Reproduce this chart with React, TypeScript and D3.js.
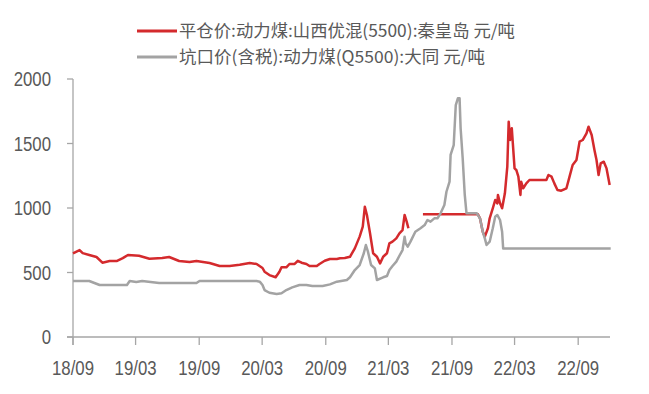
import React from "react";
import * as d3 from "d3";

// 平仓价:动力煤:山西优混(5500):秦皇岛 元/吨  (null = gap in the data)
const redSeries: [string, number | null][] = [
  ["2018-09-01", 649], ["2018-09-20", 674], ["2018-09-29", 650], ["2018-10-18", 636],
  ["2018-11-08", 620], ["2018-11-25", 576], ["2018-12-16", 589], ["2019-01-05", 589],
  ["2019-01-23", 612], ["2019-02-07", 636], ["2019-03-11", 630], ["2019-04-10", 607],
  ["2019-05-17", 612], ["2019-06-06", 620], ["2019-07-05", 589], ["2019-08-04", 581],
  ["2019-08-24", 589], ["2019-10-01", 574], ["2019-10-30", 550], ["2019-11-28", 550],
  ["2019-12-27", 560], ["2020-01-25", 574], ["2020-02-14", 566], ["2020-03-02", 535],
  ["2020-03-08", 506], ["2020-03-22", 480], ["2020-04-09", 463], ["2020-04-20", 506],
  ["2020-04-26", 540], ["2020-05-10", 540], ["2020-05-19", 566], ["2020-06-03", 566],
  ["2020-06-12", 591], ["2020-06-23", 576], ["2020-07-07", 566], ["2020-07-16", 550],
  ["2020-08-06", 550], ["2020-08-14", 566], ["2020-08-29", 591], ["2020-09-13", 605],
  ["2020-10-03", 605], ["2020-10-12", 610], ["2020-10-26", 612], ["2020-11-10", 622],
  ["2020-11-24", 687], ["2020-12-08", 778], ["2020-12-17", 855], ["2020-12-23", 1010],
  ["2020-12-29", 946], ["2021-01-07", 804], ["2021-01-16", 649], ["2021-01-27", 622],
  ["2021-02-05", 571], ["2021-02-14", 622], ["2021-02-25", 649], ["2021-03-04", 726],
  ["2021-03-13", 739], ["2021-03-24", 765], ["2021-04-02", 804], ["2021-04-11", 829],
  ["2021-04-17", 946], ["2021-04-23", 894], ["2021-04-28", 843], ["2021-05-20", null],
  ["2021-06-09", 951], ["2021-11-15", 951], ["2021-11-21", 920], ["2021-11-29", 816],
  ["2021-12-05", 778], ["2021-12-14", 843], ["2021-12-19", 920], ["2021-12-28", 998],
  ["2022-01-04", 1062], ["2022-01-10", 1036], ["2022-01-12", 1101], ["2022-01-18", 1036],
  ["2022-01-24", 998], ["2022-02-01", 1114], ["2022-02-08", 1320], ["2022-02-12", 1669],
  ["2022-02-16", 1527], ["2022-02-21", 1618], ["2022-02-24", 1501], ["2022-03-01", 1307],
  ["2022-03-06", 1295], ["2022-03-12", 1243], ["2022-03-18", 1101], ["2022-03-20", 1204],
  ["2022-03-26", 1153], ["2022-04-04", 1191], ["2022-04-13", 1217], ["2022-06-01", 1217],
  ["2022-06-07", 1256], ["2022-06-16", 1243], ["2022-06-24", 1191], ["2022-07-03", 1140],
  ["2022-07-14", 1134], ["2022-07-29", 1153], ["2022-08-07", 1243], ["2022-08-16", 1333],
  ["2022-08-27", 1372], ["2022-09-05", 1514], ["2022-09-14", 1527], ["2022-09-25", 1579],
  ["2022-10-01", 1630], ["2022-10-10", 1566], ["2022-10-18", 1450], ["2022-10-24", 1372],
  ["2022-10-30", 1256], ["2022-11-05", 1346], ["2022-11-14", 1359], ["2022-11-22", 1307],
  ["2022-12-01", 1178],
];

// 坑口价(含税):动力煤(Q5500):大同 元/吨
const graySeries: [string, number | null][] = [
  ["2018-09-01", 434], ["2018-10-18", 434], ["2018-11-17", 403], ["2019-02-04", 403],
  ["2019-02-12", 434], ["2019-03-03", 426], ["2019-03-20", 434], ["2019-05-08", 418],
  ["2019-08-24", 418], ["2019-09-02", 434], ["2020-02-14", 434], ["2020-02-23", 429],
  ["2020-03-02", 403], ["2020-03-08", 364], ["2020-03-22", 343], ["2020-04-12", 333],
  ["2020-04-26", 339], ["2020-05-10", 364], ["2020-05-27", 385], ["2020-06-17", 403],
  ["2020-07-07", 403], ["2020-07-24", 395], ["2020-08-23", 395], ["2020-09-13", 408],
  ["2020-10-03", 429], ["2020-11-01", 442], ["2020-11-10", 463], ["2020-11-24", 519],
  ["2020-12-08", 558], ["2020-12-20", 649], ["2020-12-26", 713], ["2021-01-01", 661],
  ["2021-01-10", 558], ["2021-01-21", 532], ["2021-01-27", 442], ["2021-02-14", 463],
  ["2021-02-25", 473], ["2021-03-04", 519], ["2021-03-13", 550], ["2021-03-24", 584],
  ["2021-04-02", 630], ["2021-04-11", 674], ["2021-04-17", 778], ["2021-04-20", 726],
  ["2021-04-26", 700], ["2021-05-04", 739], ["2021-05-18", 816], ["2021-06-02", 843],
  ["2021-06-14", 868], ["2021-06-22", 907], ["2021-07-01", 894], ["2021-07-12", 920],
  ["2021-07-21", 920], ["2021-07-30", 959], ["2021-08-10", 1023], ["2021-08-16", 1126],
  ["2021-08-25", 1204], ["2021-08-28", 1411], ["2021-09-06", 1488], ["2021-09-12", 1798],
  ["2021-09-18", 1850], ["2021-09-23", 1850], ["2021-09-26", 1618], ["2021-10-02", 1385],
  ["2021-10-08", 1101], ["2021-10-13", 959], ["2021-11-12", 959], ["2021-11-21", 920],
  ["2021-11-29", 816], ["2021-12-05", 765], ["2021-12-10", 713], ["2021-12-19", 739],
  ["2021-12-28", 843], ["2022-01-04", 933], ["2022-01-10", 946], ["2022-01-18", 907],
  ["2022-01-24", 816], ["2022-01-27", 687], ["2022-12-04", 687],
];

const xTickDates = ["2018-09-01", "2019-03-01", "2019-09-01", "2020-03-01", "2020-09-01",
  "2021-03-01", "2021-09-01", "2022-03-01", "2022-09-01"];
const xTickLabels = ["18/09", "19/03", "19/09", "20/03", "20/09", "21/03", "21/09", "22/03", "22/09"];
const yTicks = [0, 500, 1000, 1500, 2000];

const seriesNames = ["平仓价:动力煤:山西优混(5500):秦皇岛 元/吨", "坑口价(含税):动力煤(Q5500):大同 元/吨"];
const seriesColors = ["#d42a2d", "#a3a3a3"];

const W = 649;
const H = 394;
const margin = { left: 73, right: 39, top: 79, bottom: 57 };
const axisColor = "#a6a6a6";
const textColor = "#595959";
const squeeze = 0.8;

const parse = d3.timeParse("%Y-%m-%d");

export default function App() {
  const x = d3
    .scaleTime()
    .domain([parse("2018-09-01")!, parse("2022-12-02")!])
    .range([margin.left, W - margin.right]);
  const y = d3.scaleLinear().domain([0, 2000]).range([H - margin.bottom, margin.top]);

  const line = d3
    .line<[string, number | null]>()
    .defined((d) => d[1] !== null)
    .x((d) => x(parse(d[0])!))
    .y((d) => y(d[1] as number));

  const y0 = y(0);

  return (
    <svg
      width={W}
      height={H}
      style={{ position: "absolute", left: 0, top: 0, background: "#fff" }}
    >
      {/* legend */}
      {seriesNames.map((name, i) => {
        const ly = 31 + i * 26;
        return (
          <g key={name}>
            <line x1={137} x2={177} y1={ly} y2={ly} stroke={seriesColors[i]} strokeWidth={3} />
            <text
              x={179}
              y={ly}
              dy="0.35em"
              fontFamily="'Noto Sans CJK SC', sans-serif"
              fontSize={17}
              fill={textColor}
              textLength={i === 0 ? 336 : 306}
              lengthAdjust="spacingAndGlyphs"
            >
              {name}
            </text>
          </g>
        );
      })}

      {/* y axis */}
      <line x1={margin.left} x2={margin.left} y1={y(2000)} y2={y0 + 8} stroke={axisColor} strokeWidth={1.3} />
      {yTicks.map((t) => (
        <g key={t}>
          <line x1={margin.left - 6} x2={margin.left} y1={y(t)} y2={y(t)} stroke={axisColor} strokeWidth={1.3} />
          <g transform={`translate(${margin.left - 22},${y(t)}) scale(${squeeze},1)`}>
            <text
              textAnchor="end"
              dy="0.35em"
              fontFamily="'Liberation Sans', Arial, sans-serif"
              fontSize={21}
              fill={textColor}
            >
              {t}
            </text>
          </g>
        </g>
      ))}

      {/* x axis */}
      <line x1={margin.left - 6} x2={W - margin.right} y1={y0} y2={y0} stroke={axisColor} strokeWidth={1.3} />
      {xTickDates.map((d, i) => {
        const tx = x(parse(d)!);
        return (
          <g key={d}>
            <line x1={tx} x2={tx} y1={y0} y2={y0 + 8} stroke={axisColor} strokeWidth={1.3} />
            <g transform={`translate(${tx},${y0 + 38}) scale(${squeeze},1)`}>
              <text
                textAnchor="middle"
                fontFamily="'Liberation Sans', Arial, sans-serif"
                fontSize={21}
                fill={textColor}
              >
                {xTickLabels[i]}
              </text>
            </g>
          </g>
        );
      })}

      {/* series: red under grey, as in the source */}
      <path d={line(redSeries) ?? ""} fill="none" stroke={seriesColors[0]} strokeWidth={2.5} strokeLinejoin="round" />
      <path d={line(graySeries) ?? ""} fill="none" stroke={seriesColors[1]} strokeWidth={2.5} strokeLinejoin="round" />
    </svg>
  );
}
